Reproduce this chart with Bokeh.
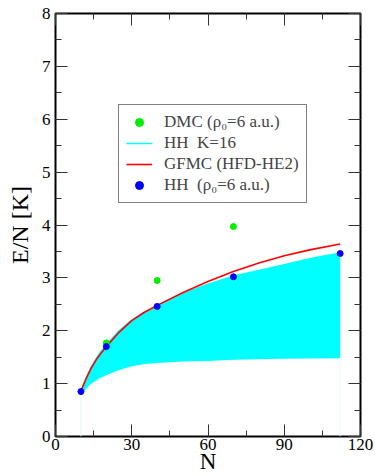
from bokeh.plotting import figure
from bokeh.models import (LinearAxis, SingleIntervalTicker, Legend, LegendItem,
                          Range1d, CustomJSTickFormatter)
from bokeh.embed import file_html
from bokeh.resources import INLINE

# HH K=16 band (cyan)
band_n = [10, 12, 14, 17, 20, 25, 30, 35, 40, 50, 60, 70, 80, 90, 100, 112]
band_upper = [0.82, 1.10, 1.31, 1.55, 1.73, 2.00, 2.20, 2.35, 2.47, 2.70, 2.88,
              3.03, 3.14, 3.25, 3.36, 3.47]
band_lower = [0.78, 0.90, 1.00, 1.09, 1.16, 1.26, 1.33, 1.37, 1.39, 1.42, 1.43,
              1.45, 1.46, 1.47, 1.475, 1.48]

# GFMC (HFD-HE2) curve (red)
gfmc_n = [10, 12, 14, 16, 18, 20, 25, 30, 35, 40, 50, 60, 70, 80, 90, 100, 112]
gfmc_e = [0.86, 1.09, 1.29, 1.45, 1.58, 1.70, 1.97, 2.19, 2.35, 2.48, 2.72, 2.93,
          3.12, 3.28, 3.42, 3.53, 3.64]

# DMC points (green)
dmc_n = [20, 40, 70]
dmc_e = [1.77, 2.95, 3.97]

# HH points (blue)
hh_n = [10, 20, 40, 70, 112]
hh_e = [0.85, 1.70, 2.46, 3.02, 3.46]

FONT = "'Liberation Serif'"

p = figure(width=375, height=476, output_backend="svg", toolbar_location=None,
           x_range=Range1d(0, 120), y_range=Range1d(0, 8),
           min_border_left=55, min_border_right=15, min_border_top=13,
           min_border_bottom=40)
p.xgrid.visible = False
p.ygrid.visible = False
p.outline_line_color = "black"
p.outline_line_width = 2
p.background_fill_color = "white"
p.border_fill_color = "white"


def style_axis(ax, labels=True):
    ax.axis_line_color = None
    ax.major_tick_in = 12
    ax.major_tick_out = 0
    ax.minor_tick_in = 6
    ax.minor_tick_out = 0
    ax.major_tick_line_color = "#333333"
    ax.minor_tick_line_color = "#333333"
    ax.major_tick_line_width = 1
    ax.minor_tick_line_width = 1
    if labels:
        ax.major_label_text_font = FONT
        ax.major_label_text_font_size = "17px"
        ax.major_label_text_font_style = "normal"
        ax.major_label_text_color = "black"
        ax.axis_label_text_font = FONT
        ax.axis_label_text_font_style = "normal"
        ax.axis_label_text_color = "black"
    else:
        ax.formatter = CustomJSTickFormatter(code="return ''")
        ax.major_label_text_font_size = "0px"
        ax.major_label_standoff = 0


p.xaxis.ticker = SingleIntervalTicker(interval=30, num_minor_ticks=2)
p.yaxis.ticker = SingleIntervalTicker(interval=1, num_minor_ticks=2)
style_axis(p.xaxis[0])
style_axis(p.yaxis[0])
p.yaxis.axis_label = "E/N [K]"
p.yaxis.axis_label_text_font_size = "24px"
p.yaxis.axis_label_standoff = 6
p.yaxis.major_label_standoff = 5
p.xaxis.axis_label = "N"
p.xaxis.axis_label_text_font_size = "23px"
p.xaxis.major_label_standoff = 2
p.xaxis.axis_label_standoff = -4

ra = LinearAxis(ticker=SingleIntervalTicker(interval=1, num_minor_ticks=2))
style_axis(ra, labels=False)
p.add_layout(ra, "right")
ta = LinearAxis(ticker=SingleIntervalTicker(interval=30, num_minor_ticks=2))
style_axis(ta, labels=False)
p.add_layout(ta, "above")

# faint vertical edges of the band
p.segment(x0=[band_n[0], band_n[-1]], y0=[0, 0], x1=[band_n[0], band_n[-1]],
          y1=[band_lower[0], band_lower[-1]], line_color="#e2f9f9", line_width=1)

p.varea(x=band_n, y1=band_lower, y2=band_upper, fill_color="#00ffff")
hh_line = p.line(band_n, band_upper, line_color="#00ffff", line_width=1.5)

red = p.line(gfmc_n, gfmc_e, line_color="red", line_width=1.6)
dmc = p.scatter(dmc_n, dmc_e, marker="circle", size=6, fill_color="#00ee00",
                line_color="#00ee00")
hh = p.scatter(hh_n, hh_e, marker="circle", size=6, fill_color="blue",
               line_color="blue")

legend = Legend(items=[
    LegendItem(label="DMC (\u03c1\u2080=6 a.u.)", renderers=[dmc]),
    LegendItem(label="HH\u00a0\u00a0K=16", renderers=[hh_line]),
    LegendItem(label="GFMC (HFD-HE2)", renderers=[red]),
    LegendItem(label="HH\u00a0\u00a0(\u03c1\u2080=6 a.u.)", renderers=[hh]),
], location=(63, 233))
legend.label_text_font = FONT
legend.label_text_font_size = "17px"
legend.label_text_font_style = "normal"
legend.label_height = 20
legend.glyph_height = 20
legend.glyph_width = 26
legend.spacing = 1
legend.padding = 7
legend.margin = 0
legend.label_standoff = 12
legend.border_line_color = "black"
legend.border_line_width = 1
legend.background_fill_alpha = 1
p.add_layout(legend, "center")

open("out.html", "w").write(file_html(p, INLINE))
